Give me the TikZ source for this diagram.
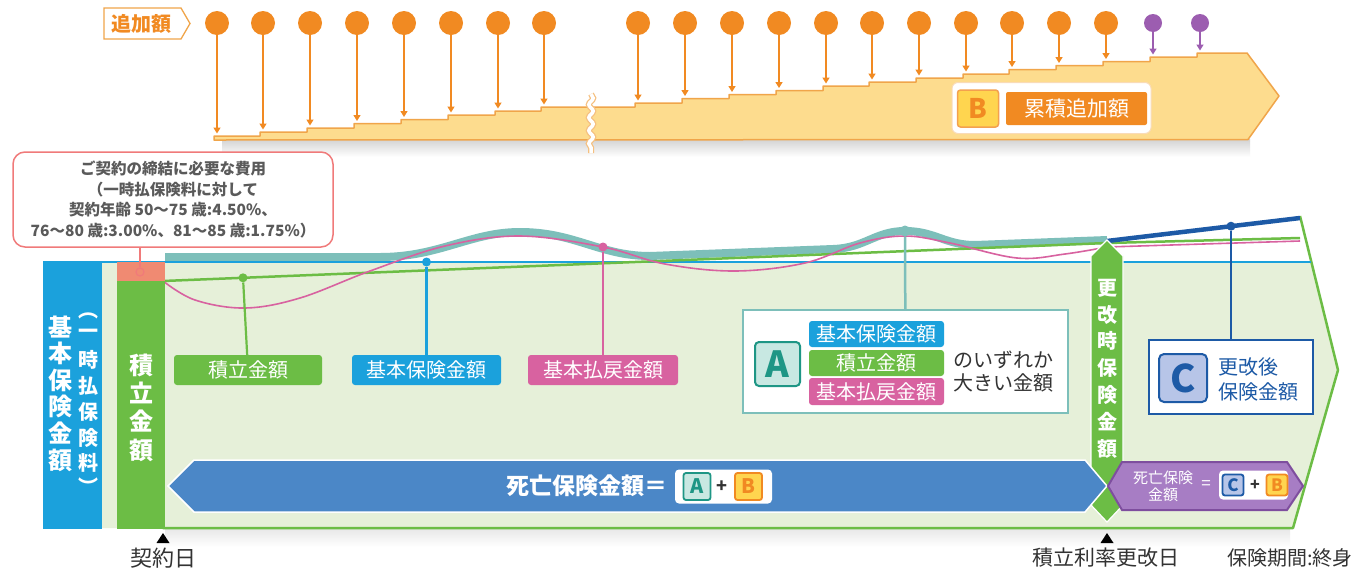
\documentclass[tikz,border=0pt]{standalone}
\usepackage{fontspec}
\setmainfont{Noto Sans CJK JP}
\usetikzlibrary{decorations.pathmorphing,arrows.meta}
\definecolor{orgC}{HTML}{F18A22}
\definecolor{bandF}{HTML}{FDDC8E}
\definecolor{bandE}{HTML}{F0A54A}
\definecolor{purC}{HTML}{9C5DB0}
\definecolor{cyanC}{HTML}{1BA1DC}
\definecolor{grnC}{HTML}{6CBD45}
\definecolor{pinkC}{HTML}{D862A0}
\definecolor{tealC}{HTML}{7DBFBA}
\definecolor{lgrn}{HTML}{E6F0D9}
\definecolor{navy}{HTML}{1D5AA6}
\definecolor{arrB}{HTML}{4B87C7}
\definecolor{purA}{HTML}{A77DC4}
\definecolor{purE}{HTML}{7E4E9E}
\definecolor{salm}{HTML}{F08A72}
\definecolor{callE}{HTML}{F07A7A}
\definecolor{txtG}{HTML}{5A5A5A}
\definecolor{txtD}{HTML}{333333}
\definecolor{yelB}{HTML}{FFD54F}
\definecolor{tealD}{HTML}{1E9685}
\definecolor{tealL}{HTML}{C8E8E2}
\definecolor{lavL}{HTML}{B7C5E8}
\newcommand{\fsz}[2]{\fontsize{#1}{#2}\selectfont}
\tikzset{
  lab/.style={rounded corners=3pt, text=white, inner sep=0pt, font=\fsz{20}{24}},
  vchar/.style={text=white, inner sep=0pt, align=center},
  mini/.style={rounded corners=2.5pt, line width=1.8pt, minimum size=25pt, inner sep=0pt, font=\bfseries\fsz{20}{20}},
  dot/.style={circle, inner sep=0pt, minimum size=9pt},
  drop/.style={line width=1.4pt, -{Triangle[length=6pt,width=7pt]}},
}
\begin{document}
\begin{tikzpicture}[x=1pt,y=-1pt]
\useasboundingbox (0,0) rectangle (1357,574);
\fill[white] (0,0) rectangle (1357,574);

% ---------- top band ----------
\shade[top color=gray!35, bottom color=white] (222,139) rectangle (1250,157);
\path[fill=bandF, draw=bandE, line width=1.5pt, line join=round]
 (214,140) -- (214,136) -- (260,136) -- (260,132) -- (307,132) -- (307,128) -- (354,128) -- (354,123.5) -- (401,123.5) -- (401,119.5) -- (448,119.5) -- (448,115) -- (495,115) -- (495,111) -- (541,111) -- (541,107) -- (635,107) -- (635,103) -- (682,103) -- (682,98.5) -- (729,98.5) -- (729,94.5) -- (776,94.5) -- (776,90.5) -- (823,90.5) -- (823,86) -- (869,86) -- (869,82) -- (916,82) -- (916,78) -- (963,78) -- (963,74) -- (1009,74) -- (1009,69.5) -- (1056,69.5) -- (1056,65.5) -- (1103,65.5) -- (1103,61.5) -- (1150,61.5) -- (1150,57) -- (1197,57) -- (1197,53) -- (1247,53) -- (1279,96) -- (1248,139.5) -- cycle;
% break
\draw[bandE!70, line width=6pt, decorate, decoration={snake, amplitude=2.2pt, segment length=13pt}] (591,94) -- (591,153);
\draw[white, line width=3.5pt, decorate, decoration={snake, amplitude=2.2pt, segment length=13pt}] (591,94) -- (591,153);

% additions
\foreach \x/\t [count=\i] in {217/136, 263/132, 310/128, 357/123.5, 404/119.5, 451/115, 498/111, 544/107, 638/103, 685/98.5, 732/94.5, 779/90.5, 826/86, 872/82, 919/78, 966/74, 1012/69.5, 1059/65.5, 1106/61.5}{
  \node[circle, fill=orgC, minimum size=24pt, inner sep=0pt] (c\i) at (\x,23) {};
  \coordinate (s\i) at (\x,\t-2.5);
  \draw[orgC, drop] (c\i) -- (s\i);
}
\foreach \x/\t [count=\i] in {1153/57, 1200/53}{
  \node[circle, fill=purC, minimum size=18pt, inner sep=0pt] (p\i) at (\x,23) {};
  \coordinate (ps\i) at (\x,\t-2.5);
  \draw[purC, drop] (p\i) -- (ps\i);
}
% label 追加額
\path[fill=white, draw=bandE, line width=1.3pt] (104,8) -- (181,8) -- (190,23.5) -- (181,39) -- (104,39) -- cycle;
\node[text=orgC, font=\bfseries\fsz{20}{20}, inner sep=0pt] (tsuika) at (141,23.5) {追加額};
% B label
\node[fill=white, draw=bandE!40, line width=1pt, rounded corners=6pt, minimum width=199pt, minimum height=51pt, inner sep=0pt] (bbox) at (1051.5,108) {};
\node[fill=yelB, draw=orgC!80, line width=1.5pt, rounded corners=3pt, minimum width=41pt, minimum height=37pt, inner sep=0pt, text=orgC, font=\bfseries\fsz{27}{27}] (bsq) at (978,108.5) {B};
\node[fill=orgC, rounded corners=2pt, minimum width=141pt, minimum height=33pt, inner sep=0pt, text=white, font=\fsz{21}{21}] (btxt) at (1076.5,108.5) {累積追加額};

% ---------- main area ----------
\shade[top color=gray!18, bottom color=white] (165,529) rectangle (1290,547);
\fill[lgrn] (100,262) -- (1311,262) -- (1338,370) -- (1293,528) -- (100,528) -- cycle;
\draw[grnC, line width=2.5pt, line join=round] (1300,216) -- (1338,370) -- (1293,528) -- (163,528) -- (163,281);

% callout
\node[draw=callE, line width=1.5pt, rounded corners=12pt, fill=white, minimum width=320pt, minimum height=95pt, inner sep=0pt, text=txtG, align=center, font=\bfseries\fsz{15.5}{20.7}] (call) at (173,199.5)
 {ご契約の締結に必要な費用\\（一時払保険料に対して\\契約年齢 50〜75 歳:4.50\%、\\76〜80 歳:3.00\%、81〜85 歳:1.75\%）};

% teal band (max)
\draw[tealC, line width=8pt, line join=round]
 (165,257) -- (380,257) .. controls (440,257) and (470,232) .. (520,232) .. controls (575,232) and (600,256) .. (650,256) -- (833,249) .. controls (865,248) and (875,231) .. (905,231) .. controls (935,231) and (945,245) .. (975,245) -- (1107,240);
% blue line
\draw[cyanC, line width=2.5pt] (43,262) -- (1311,262);
% green line
\draw[grnC, line width=2.5pt] (163,281) -- (1107,243) -- (1300,238);
% pink curve
\draw[pinkC, line width=1.6pt] plot[smooth, tension=0.6] coordinates {(163,281) (195,300) (245,308) (300,298) (370,271) (445,246) (520,236) (603,247) (665,264) (735,271) (805,263) (860,243) (905,236) (950,243) (1017,258) (1065,254) (1107,247)} -- (1300,241);
% navy line
\draw[navy, line width=4.5pt] (1107,241) -- (1300,218);

% bars on the left
\fill[cyanC] (43,262) rectangle (102,529);
\fill[salm] (117,262) rectangle (165,281);
\fill[grnC] (117,281) rectangle (165,529);
\node[vchar, font=\bfseries\fsz{24}{26.6}] (kihonv) at (60,393.5) {基\\本\\保\\険\\金\\額};
\foreach \c/\y [count=\i] in {︵/316, 一/334, 時/360, 払/386, 保/412, 険/438, 料/463, ︶/486}{
  \node[vchar, font=\bfseries\fsz{20}{20}] (ichi\i) at (88,\y) {\c};
}
\node[vchar, font=\bfseries\fsz{24}{28.3}] (tsumiv) at (141,407.5) {積\\立\\金\\額};

% pointer of callout
\node[circle, draw=callE, fill=salm, line width=1.2pt, minimum size=8pt, inner sep=0pt] (cdot) at (140,272) {};
\draw[callE, line width=1.5pt] (call.south -| cdot) -- (cdot);

% labels and pointers
\node[lab, fill=grnC, minimum width=148pt, minimum height=30pt] (glab) at (248,370) {積立金額};
\node[lab, fill=cyanC, minimum width=149pt, minimum height=30pt] (blab) at (426.5,370) {基本保険金額};
\node[lab, fill=pinkC, minimum width=150pt, minimum height=30pt] (plab) at (603,370) {基本払戻金額};
\node[dot, fill=grnC] (gdot) at (243,277.8) {};
\node[dot, fill=cyanC] (bdot) at (426.5,262) {};
\node[dot, fill=pinkC] (pdot) at (603,247) {};
\draw[grnC, line width=2.2pt] (gdot) -- (glab);
\draw[cyanC, line width=2.2pt] (bdot) -- (blab);
\draw[pinkC, line width=2.2pt] (pdot) -- (plab);

% A box
\node[draw=tealC, fill=white, line width=1.2pt, minimum width=325pt, minimum height=103pt, inner sep=0pt] (abox) at (905.5,361.5) {};
\node[dot, fill=tealC, minimum size=11pt] (tdot) at (905,231) {};
\draw[tealC, line width=2.5pt] (tdot) -- (abox);
\node[fill=tealL, draw=tealD, line width=2pt, rounded corners=4pt, minimum width=45pt, minimum height=44pt, inner sep=0pt, text=tealD, font=\bfseries\fsz{36}{36}] (asq) at (777.5,364) {A};
\node[lab, fill=cyanC, minimum width=135pt, minimum height=26pt] (a1) at (876.5,334) {基本保険金額};
\node[lab, fill=grnC, minimum width=135pt, minimum height=26pt] (a2) at (876.5,363) {積立金額};
\node[lab, fill=pinkC, minimum width=135pt, minimum height=27pt] (a3) at (876.5,391.5) {基本払戻金額};
\node[text=txtD, align=left, inner sep=0pt, font=\fsz{20}{23}] (aor) at (1003,372) {のいずれか\\大きい金額};

% renewal bar
\path[fill=grnC, draw=white, line width=1.2pt] (1107,240) -- (1123,256) -- (1123,505) -- (1107,522) -- (1091,505) -- (1091,256) -- cycle;
\node[vchar, font=\bfseries\fsz{20}{26.8}] (koukai) at (1107,368.5) {更\\改\\時\\保\\険\\金\\額};

% C box
\node[draw=navy, fill=white, line width=1.5pt, minimum width=164pt, minimum height=74pt, inner sep=0pt] (cbox) at (1231,377) {};
\node[dot, fill=navy, minimum size=9pt] (ndot) at (1231,226.2) {};
\draw[navy, line width=2.5pt] (ndot) -- (cbox);
\node[fill=lavL, draw=navy, line width=2pt, rounded corners=5pt, minimum width=48pt, minimum height=48pt, inner sep=0pt, text=navy, font=\bfseries\fsz{38}{38}] (csq) at (1183,378) {C};
\node[text=navy, anchor=west, inner sep=0pt, font=\fsz{20}{20}] (ctxt1) at (1218,367) {更改後};
\node[text=navy, anchor=west, inner sep=0pt, font=\fsz{20}{20}] (ctxt2) at (1218,392) {保険金額};

% death benefit arrows
\path[fill=arrB, draw=white, line width=1.5pt] (168,486) -- (194,460) -- (1085,460) -- (1107,486) -- (1085,512) -- (194,512) -- cycle;
\node[text=white, anchor=east, inner sep=0pt, font=\bfseries\fsz{23}{23}] (sibo) at (668,486) {死亡保険金額＝};
\node[fill=white, rounded corners=4pt, minimum width=97pt, minimum height=34pt, inner sep=0pt] (abw) at (723.5,486.5) {};
\node[mini, fill=tealL, draw=tealD, text=tealD, minimum size=27pt] (am) at (697,486.5) {A};
\node[text=txtD, inner sep=0pt, font=\bfseries\fsz{18}{18}] (plus1) at (722,486.5) {+};
\node[mini, fill=yelB, draw=orgC, text=orgC, minimum size=27pt] (bm) at (748.5,486.5) {B};

\path[fill=purA, draw=purE, line width=2pt] (1108,486) -- (1122,462) -- (1287,462) -- (1303,486) -- (1287,510) -- (1122,510) -- cycle;
\node[text=white, align=center, inner sep=0pt, font=\fsz{15}{17}] (sibo2) at (1163,486) {死亡保険\\金額};
\node[text=white, inner sep=0pt, font=\fsz{17}{17}] (eq2) at (1206,485) {=};
\node[fill=white, rounded corners=4pt, minimum width=69pt, minimum height=29pt, inner sep=0pt] (cbw) at (1253.5,485) {};
\node[mini, fill=lavL, draw=navy, text=navy, minimum size=21pt, font=\bfseries\fsz{17}{17}] (cm) at (1233,485) {C};
\node[text=txtD, inner sep=0pt, font=\bfseries\fsz{16}{16}] (plus2) at (1255,485) {+};
\node[mini, fill=yelB, draw=orgC, text=orgC, minimum size=21pt, font=\bfseries\fsz{17}{17}] (bm2) at (1277,485) {B};

% bottom markers and labels
\fill[black] (163,533) -- (169.5,543) -- (156.5,543) -- cycle;
\fill[black] (1107,533) -- (1113.5,543) -- (1100.5,543) -- cycle;
\node[text=txtD, inner sep=0pt, font=\fsz{22}{22}] (keiyaku) at (163,558) {契約日};
\node[text=txtD, inner sep=0pt, font=\fsz{21}{21}] (kaiteibi) at (1106,558) {積立利率更改日};
\node[text=txtD, inner sep=0pt, font=\fsz{20}{20}] (kikan) at (1290,558) {保険期間:終身};
\end{tikzpicture}
\end{document}
